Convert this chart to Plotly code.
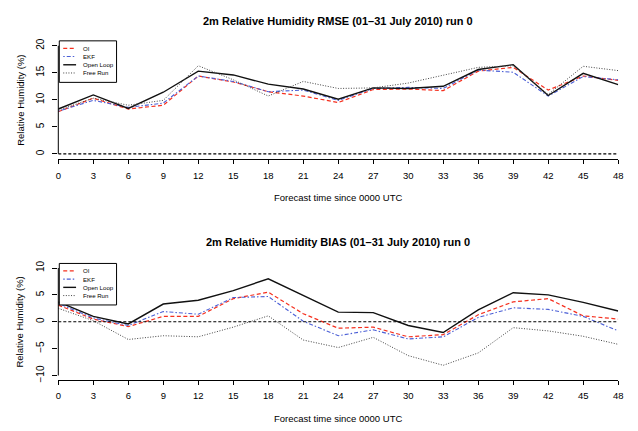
import plotly.graph_objects as go

# ---------------- data ----------------
hours = [0, 3, 6, 9, 12, 15, 18, 21, 24, 27, 30, 33, 36, 39, 42, 45, 48]

series_names = ["OI", "EKF", "Open Loop", "Free Run"]

rmse_oi = [7.8, 10.3, 8.3, 9.0, 14.4, 13.3, 11.5, 10.7, 9.5, 11.9, 12.0, 11.7, 15.3, 16.0, 11.8, 14.4, 13.6]
rmse_ekf = [7.9, 9.9, 8.6, 9.4, 14.4, 13.4, 11.5, 11.8, 9.9, 12.1, 12.3, 12.1, 15.5, 15.1, 10.7, 14.3, 13.7]
rmse_ol = [8.3, 10.9, 8.4, 11.4, 15.3, 14.6, 12.9, 12.0, 10.1, 12.2, 12.1, 12.5, 15.6, 16.5, 10.8, 14.9, 12.8]
rmse_fr = [8.1, 10.3, 9.0, 9.9, 16.3, 13.7, 10.7, 13.4, 12.1, 12.2, 13.1, 14.6, 16.0, 16.3, 11.0, 16.2, 15.4]

bias_oi = [3.1, 0.5, -0.9, 1.0, 1.0, 4.3, 5.5, 1.5, -1.2, -1.0, -2.8, -2.4, 1.3, 3.7, 4.3, 1.1, 0.5]
bias_ekf = [3.4, 0.7, -0.7, 1.9, 1.4, 4.5, 4.7, 0.1, -2.6, -1.5, -3.2, -2.8, 0.8, 2.6, 2.3, 1.0, -1.7]
bias_ol = [3.7, 1.0, -0.4, 3.3, 4.0, 5.8, 8.0, 4.9, 1.8, 1.7, -0.7, -2.0, 2.2, 5.4, 5.0, 3.6, 2.0]
bias_fr = [2.5, 0.2, -3.3, -2.6, -2.8, -1.0, 1.1, -3.4, -4.8, -2.9, -6.3, -8.1, -5.8, -1.1, -1.7, -2.7, -4.2]

rmse_ticks = [0, 5, 10, 15, 20]
bias_ticks = [-10, -5, 0, 5, 10]

title_rmse = "2m Relative Humidity RMSE (01\u201331 July 2010) run 0"
title_bias = "2m Relative Humidity BIAS (01\u201331 July 2010) run 0"
xlabel = "Forecast time since 0000 UTC"
ylabel = "Relative Humidity (%)"

# ---------------- styles ----------------
W, H = 638, 431
FONT = "Liberation Sans, Arial, Helvetica, sans-serif"
styles = [
    dict(color="#f5301f", width=1.2, dash="4px,2.5px"),
    dict(color="#4b5fd6", width=1.1, dash="1.5px,2px,4px,2px"),
    dict(color="#111111", width=1.4, dash="solid"),
    dict(color="#444444", width=1.0, dash="1px,1.6px"),
]

def px_x(p):
    return p / W

def px_y(p):
    return 1 - p / H

plot_left, plot_right = 56, 623
panels = [
    dict(top=38.3, bottom=158.0, rng=[-0.97, 20.9], ticks=rmse_ticks, yline=[0, 20],
         data=[rmse_oi, rmse_ekf, rmse_ol, rmse_fr], title=title_rmse, title_y=18, xlab_y=197),
    dict(top=263.5, bottom=381.5, rng=[-10.85, 10.85], ticks=bias_ticks, yline=[-10, 10],
         data=[bias_oi, bias_ekf, bias_ol, bias_fr], title=title_bias, title_y=242, xlab_y=420),
]

fig = go.Figure()
shapes = []
annotations = []
layout_axes = {}

for k, p in enumerate(panels):
    xa = "x" if k == 0 else f"x{k+1}"
    ya = "y" if k == 0 else f"y{k+1}"
    xkey = "xaxis" if k == 0 else f"xaxis{k+1}"
    ykey = "yaxis" if k == 0 else f"yaxis{k+1}"
    for name, vals, st in zip(series_names, p["data"], styles):
        fig.add_trace(go.Scatter(x=hours, y=vals, mode="lines", name=name, line=st,
                                 xaxis=xa, yaxis=ya, showlegend=False))
    layout_axes[xkey] = dict(
        domain=[px_x(plot_left), px_x(plot_right)], range=[0, 48], anchor=ya,
        tickmode="array", tickvals=hours, ticktext=[str(h) for h in hours],
        ticks="outside", ticklen=4, tickcolor="black", showline=True, linecolor="black",
        linewidth=1, showgrid=False, zeroline=False, ticklabelstandoff=3,
        tickfont=dict(family=FONT, size=9.5, color="black"))
    layout_axes[ykey] = dict(
        domain=[px_y(p["bottom"]), px_y(p["top"])], range=p["rng"], anchor=xa,
        tickmode="array", tickvals=p["ticks"], ticks="outside", ticklen=5, tickcolor="black",
        tickangle=-90, showline=False, showgrid=False, zeroline=False, ticklabelstandoff=4,
        tickfont=dict(family=FONT, size=10, color="black"))
    # y axis line spanning tick range (R style)
    shapes.append(dict(type="line", xref="paper", yref=ya, x0=px_x(plot_left), x1=px_x(plot_left),
                       y0=p["yline"][0], y1=p["yline"][1], line=dict(color="black", width=1)))
    # horizontal dashed reference at zero
    shapes.append(dict(type="line", xref=xa, yref=ya, x0=0, x1=48, y0=0, y1=0,
                       line=dict(color="black", width=1.1, dash="3px,2px")))
    # legend box
    bx0, bx1 = plot_left + 1, plot_left + 59
    by0, by1 = p["top"], p["top"] + 42
    shapes.append(dict(type="rect", xref="paper", yref="paper", x0=px_x(bx0), x1=px_x(bx1),
                       y0=px_y(by1), y1=px_y(by0), line=dict(color="black", width=1),
                       fillcolor="white", layer="above"))
    for i, (name, st) in enumerate(zip(series_names, styles)):
        ry = p["top"] + 7.6 + 8.3 * i
        shapes.append(dict(type="line", xref="paper", yref="paper", x0=px_x(bx0 + 4),
                           x1=px_x(bx0 + 17), y0=px_y(ry), y1=px_y(ry), line=st, layer="above"))
        annotations.append(dict(text=name, xref="paper", yref="paper", x=px_x(bx0 + 22),
                                y=px_y(ry), xanchor="left", yanchor="middle", showarrow=False,
                                font=dict(family=FONT, size=6.1, color="black")))
    # titles
    annotations.append(dict(text="<b>" + p["title"] + "</b>", xref="paper", yref="paper",
                            x=px_x((plot_left + plot_right) / 2), y=px_y(p["title_y"]),
                            xanchor="center", yanchor="middle", showarrow=False,
                            font=dict(family=FONT, size=11, color="black")))
    annotations.append(dict(text=xlabel, xref="paper", yref="paper",
                            x=px_x((plot_left + plot_right) / 2), y=px_y(p["xlab_y"]),
                            xanchor="center", yanchor="middle", showarrow=False,
                            font=dict(family=FONT, size=9.5, color="black")))
    annotations.append(dict(text=ylabel, xref="paper", yref="paper", textangle=-90,
                            x=px_x(17), y=px_y((p["top"] + p["bottom"]) / 2),
                            xanchor="center", yanchor="middle", showarrow=False,
                            font=dict(family=FONT, size=9.5, color="black")))

fig.update_layout(width=W, height=H, autosize=False, margin=dict(l=0, r=0, t=0, b=0),
                  paper_bgcolor="white", plot_bgcolor="white", showlegend=False,
                  shapes=shapes, annotations=annotations, **layout_axes)

fig.write_html("out.html")
